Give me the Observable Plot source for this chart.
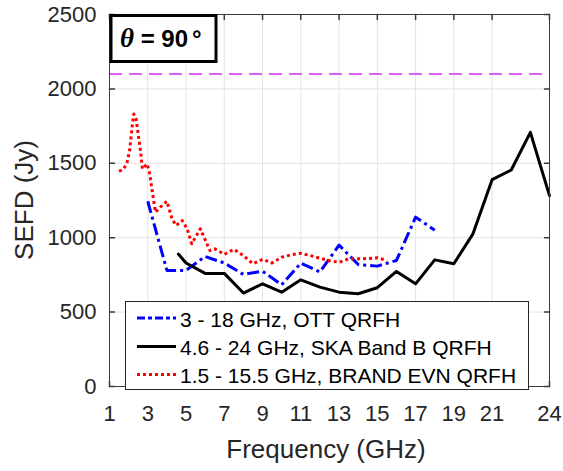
<!DOCTYPE html>
<html><head><meta charset="utf-8">
<script src="https://cdn.jsdelivr.net/npm/d3@7"></script>
<script src="https://cdn.jsdelivr.net/npm/@observablehq/plot@0.6"></script>
<style>body{margin:0;background:#fff} #chart{width:563px;height:471px}</style>
</head><body><div id="chart"></div>
<script>
// ---- data ----
const xTicks = [1, 3, 5, 7, 9, 11, 13, 15, 17, 19, 21, 24];
const yTicks = [0, 500, 1000, 1500, 2000, 2500];
const seriesNames = ["3 - 18 GHz, OTT QRFH", "4.6 - 24 GHz, SKA Band B QRFH", "1.5 - 15.5 GHz, BRAND EVN QRFH"];
const ottFreq = [3, 4, 5, 6, 7, 8, 9, 10, 11, 12, 13, 14, 15, 16, 17, 18];
const ottSefd = [1245, 780, 780, 874, 830, 753, 775, 684, 829, 770, 950, 820, 809, 847, 1138, 1050];
const skaFreq = [4.6, 5, 6, 7, 8, 9, 10, 11, 12, 13, 14, 15, 16, 17, 18, 19, 20, 21, 22, 23, 24];
const skaSefd = [890, 830, 760, 760, 628, 690, 634, 717, 668, 634, 623, 664, 773, 690, 851, 825, 1026, 1390, 1455, 1708, 1283];
const evnFreq = [1.5, 1.75, 1.92, 2.05, 2.18, 2.27, 2.39, 2.5, 2.62, 2.72, 2.97, 3.1, 3.23, 3.4, 3.66, 4.0, 4.27, 4.48, 4.8, 5.06, 5.3, 5.75, 6.25, 6.5, 7.0, 7.5, 8.0, 8.5, 9.0, 9.5, 10.0, 10.5, 11.0, 11.5, 12.0, 12.5, 13.0, 13.5, 14.0, 14.5, 15.0, 15.5];
const evnSefd = [1446, 1462, 1507, 1585, 1742, 1831, 1798, 1697, 1585, 1462, 1496, 1429, 1317, 1171, 1205, 1245, 1127, 1082, 1115, 1060, 959, 1060, 914, 925, 888, 922, 880, 825, 855, 830, 869, 885, 895, 880, 862, 845, 835, 858, 858, 860, 865, 847];
const limitSefd = [2100];
const angleLabel = "90";

// ---- tables ----
const ott = ottFreq.map((f, i) => ({f, v: ottSefd[i]}));
const ska = skaFreq.map((f, i) => ({f, v: skaSefd[i]}));
const evn = evnFreq.map((f, i) => ({f, v: evnSefd[i]}));

const font = "'Liberation Sans', Arial, Helvetica, sans-serif";
const axisColor = "#3a3a3a";
const textColor = "#262626";
const styles = [
  {stroke: "#0000ff", dash: "12,4,3,4"},
  {stroke: "#000000", dash: null},
  {stroke: "#ff0000", dash: "3,3"}
];
const tickShape = {draw(ctx, l) { ctx.moveTo(0, 0); ctx.lineTo(0, -l); }};
const plain = d3.format("d");

const plot = Plot.plot({
  width: 563, height: 471,
  marginLeft: 109, marginRight: 14, marginTop: 14, marginBottom: 85,
  style: {fontFamily: font, fontSize: "22px", color: textColor, background: "#fff"},
  x: {domain: [1, 24]},
  y: {domain: [0, 2500]},
  marks: [
    Plot.gridX(xTicks, {stroke: "#e4e4e4", strokeOpacity: 1}),
    Plot.gridY(yTicks, {stroke: "#e4e4e4", strokeOpacity: 1}),
    Plot.ruleY(limitSefd, {stroke: "#dc28fa", strokeWidth: 1.4, strokeDasharray: "13,7"}),
    Plot.line(ott, {x: "f", y: "v", stroke: styles[0].stroke, strokeWidth: 3, strokeDasharray: styles[0].dash, strokeLinecap: "butt"}),
    Plot.line(ska, {x: "f", y: "v", stroke: styles[1].stroke, strokeWidth: 3}),
    Plot.line(evn, {x: "f", y: "v", stroke: styles[2].stroke, strokeWidth: 3, strokeDasharray: styles[2].dash, strokeLinecap: "butt"}),
    Plot.frame({stroke: axisColor}),
    Plot.vector(xTicks, {x: d => d, frameAnchor: "bottom", length: 5, rotate: 0, anchor: "start", shape: tickShape, stroke: axisColor}),
    Plot.vector(xTicks, {x: d => d, frameAnchor: "top", length: 5, rotate: 180, anchor: "start", shape: tickShape, stroke: axisColor}),
    Plot.vector(yTicks, {y: d => d, frameAnchor: "left", length: 5, rotate: 90, anchor: "start", shape: tickShape, stroke: axisColor}),
    Plot.vector(yTicks, {y: d => d, frameAnchor: "right", length: 5, rotate: -90, anchor: "start", shape: tickShape, stroke: axisColor}),
    Plot.axisX(xTicks, {tickSize: 0, tickPadding: 19, label: null, fontSize: 22, fill: textColor, tickFormat: plain}),
    Plot.axisY(yTicks, {tickSize: 0, tickPadding: 13, label: null, fontSize: 22, fill: textColor, tickFormat: plain})
  ]
});
document.getElementById("chart").appendChild(plot);

const svg = d3.select(plot);
// axis titles
svg.append("text").attr("x", 326).attr("y", 458).attr("text-anchor", "middle")
  .attr("font-size", 26).attr("fill", textColor).attr("font-family", font).text("Frequency (GHz)");
svg.append("text").attr("transform", "translate(33,200) rotate(-90)").attr("text-anchor", "middle")
  .attr("font-size", 26).attr("fill", textColor).attr("font-family", font).text("SEFD (Jy)");

// theta annotation box
const tb = svg.append("g");
tb.append("rect").attr("x", 111).attr("y", 15.5).attr("width", 105).attr("height", 46)
  .attr("fill", "#fff").attr("stroke", "#000").attr("stroke-width", 3);
const tt = tb.append("text").attr("x", 120).attr("y", 47).attr("text-anchor", "start")
  .attr("font-size", 24).attr("font-weight", "bold").attr("fill", "#000").attr("font-family", font);
tt.append("tspan").attr("font-family", "'Liberation Serif', 'Times New Roman', serif").attr("font-style", "italic").attr("font-size", 27).text("θ");
tt.append("tspan").text(" = " + angleLabel);
tt.append("tspan").attr("dx", 4).text("°");

// legend
const lg = svg.append("g");
lg.append("rect").attr("x", 125.5).attr("y", 301.5).attr("width", 403).attr("height", 88)
  .attr("fill", "#fff").attr("stroke", textColor).attr("stroke-width", 1);
const rowsY = [318, 346.5, 374.5];
seriesNames.forEach((name, i) => {
  const y = rowsY[i];
  lg.append("line").attr("x1", 137).attr("x2", 176).attr("y1", y).attr("y2", y)
    .attr("stroke", styles[i].stroke).attr("stroke-width", 3)
    .attr("stroke-dasharray", i === 0 ? "8,3,4,3" : styles[i].dash).attr("stroke-linecap", "butt");
  lg.append("text").attr("x", 180).attr("y", y + 8.5).attr("text-anchor", "start")
    .attr("font-size", 21).attr("fill", "#000").attr("font-family", font).text(name);
});
</script>
</body></html>
